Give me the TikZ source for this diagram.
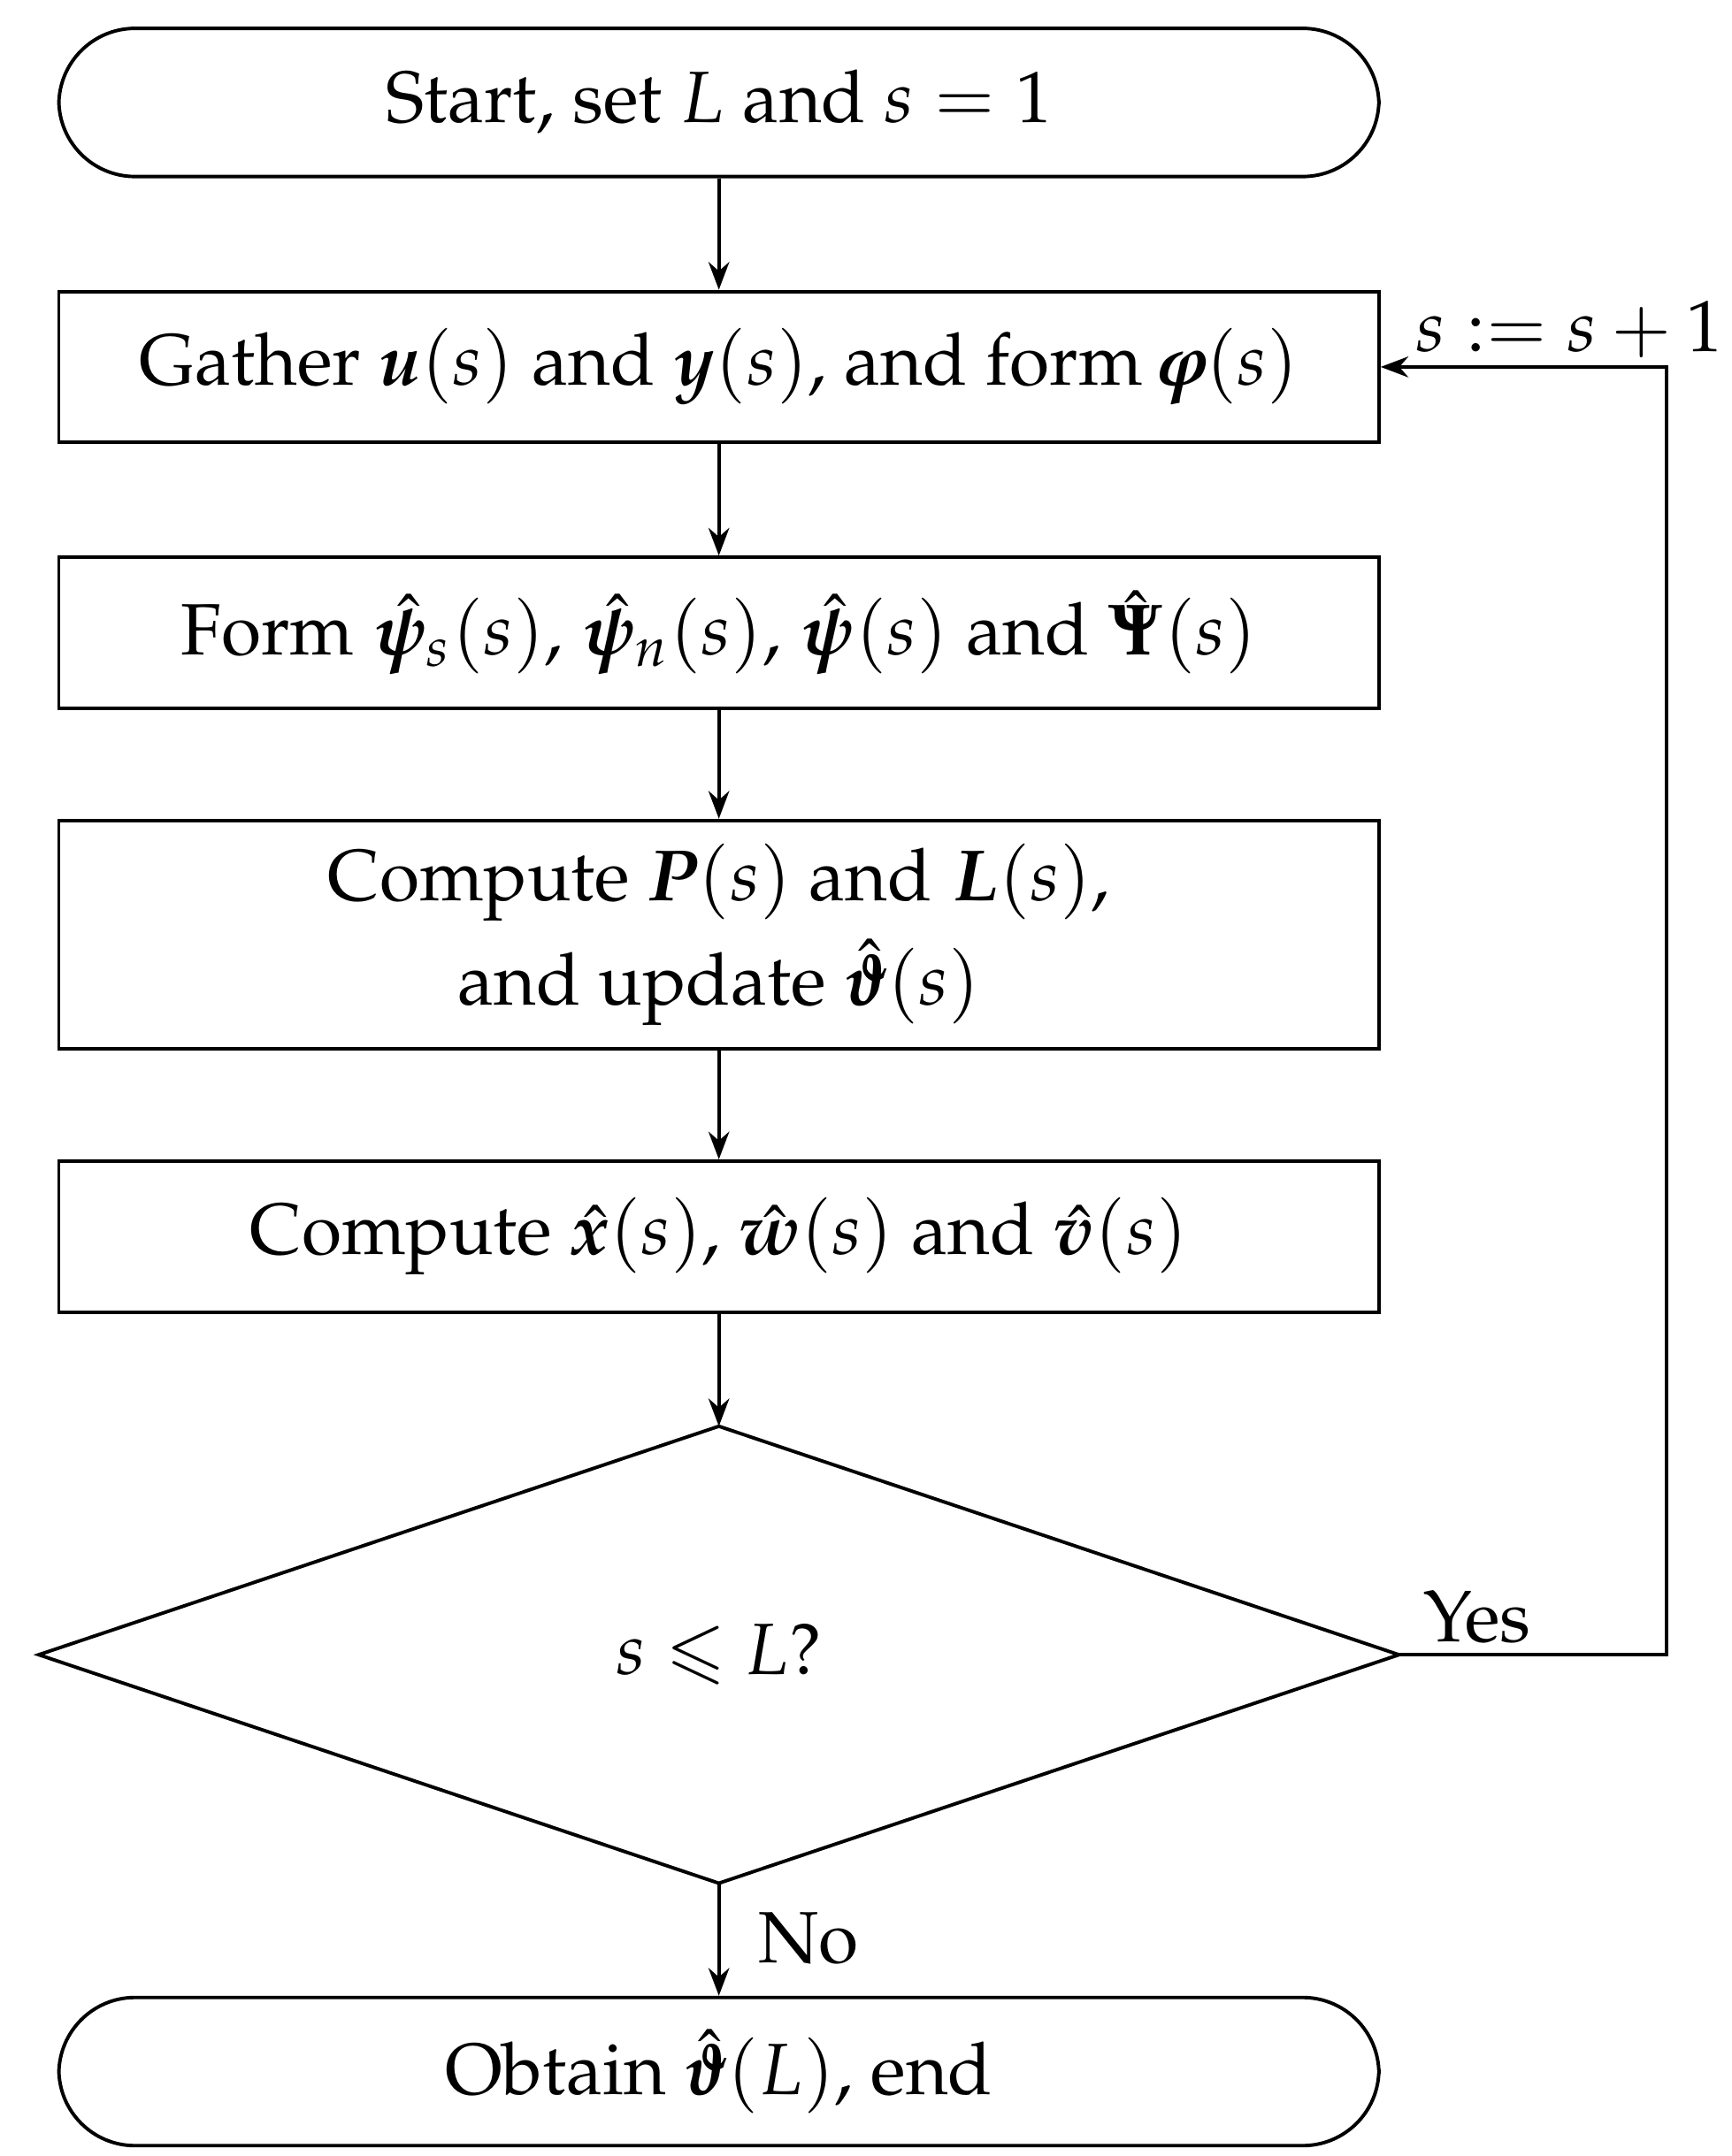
\documentclass[tikz,border=0pt]{standalone}
\usepackage[T1]{fontenc}
\usepackage{amsmath,amssymb}
\usepackage{mathpazo}
\usepackage{bm}
\usetikzlibrary{arrows.meta}
\begin{document}
\begin{tikzpicture}[x=0.2pt,y=-0.2pt,
  box/.style={draw,line width=0.5pt,minimum width=190.6pt,inner sep=0pt,align=center,font=\fontsize{10.5}{15}\selectfont},
  arr/.style={-{Stealth[length=4pt,width=3pt]},line width=0.5pt},
  lab/.style={font=\fontsize{10.5}{13}\selectfont}]
\useasboundingbox (0,0) rectangle (1250,1557);
\node[box,rounded corners=11pt,minimum height=21.4pt] (start) at (519,74) {Start, set $L$ and $s=1$};
\node[box,minimum height=21.8pt] (g) at (519,265) {Gather $\bm{u}(s)$ and $\bm{y}(s)$, and form $\bm{\varphi}(s)$};
\node[box,minimum height=21.8pt] (f) at (519,457) {Form $\hat{\bm{\psi}}_s(s)$, $\hat{\bm{\psi}}_n(s)$, $\hat{\bm{\psi}}(s)$ and $\hat{\bm{\Psi}}(s)$};
\node[box,minimum height=33pt] (p) at (519,675) {Compute $\bm{P}(s)$ and $\bm{L}(s)$,\\and update $\hat{\bm{\vartheta}}(s)$};
\node[box,minimum height=21.8pt] (x) at (519,893) {Compute $\hat{\bm{x}}(s)$, $\hat{\bm{w}}(s)$ and $\hat{\bm{v}}(s)$};
\coordinate (dt) at (519,1030); \coordinate (db) at (519,1360);
\coordinate (dl) at (28,1195); \coordinate (dr) at (1010,1195);
\draw[line width=0.5pt] (dt) -- (dr) -- (db) -- (dl) -- cycle;
\node[lab] (d) at (519,1195) {$s\leqslant L$?};
\node[box,rounded corners=11pt,minimum height=21.4pt] (end) at (519,1496) {Obtain $\hat{\bm{\vartheta}}(L)$, end};
\draw[arr] (start) -- (g);
\draw[arr] (g) -- (f);
\draw[arr] (f) -- (p);
\draw[arr] (p) -- (x);
\draw[arr] (x) -- (dt);
\draw[arr] (db) -- (end);
\coordinate (c1) at (1203,1195); \coordinate (c2) at (1203,265);
\draw[arr] (dr) -- (c1) -- (c2) -- (g.east);
\node[lab,anchor=west] (yes) at (1010,1168) {Yes};
\node[lab,anchor=west] (no) at (530,1400) {No};
\node[lab] (inc) at (1133,238) {$s:=s+1$};
\end{tikzpicture}
\end{document}
